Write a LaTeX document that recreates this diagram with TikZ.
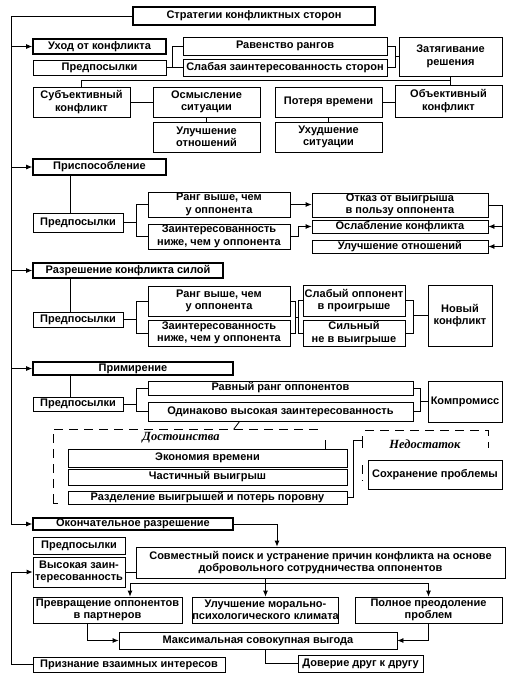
\documentclass[tikz,border=0pt]{standalone}
\usepackage{fontspec}
\setmainfont{Liberation Sans}
\newfontfamily\serifit{Liberation Serif}
\usetikzlibrary{arrows.meta,calc}
\newcommand{\mybox}[7][]{%
  \pgfmathsetmacro\mycx{(#3+#5)/2}\pgfmathsetmacro\mycy{(#4+#6)/2}%
  \pgfmathsetmacro\myww{#5-#3}\pgfmathsetmacro\myhh{#6-#4}%
  \node[box,#1,minimum width=\myww pt,minimum height=\myhh pt] (#2) at (\mycx,\mycy) {#7};}
\tikzset{
  box/.style={draw,line width=0.8pt,fill=white,inner sep=0pt,align=center,
    font=\fontsize{11}{12.5}\selectfont\bfseries},
  head/.style={line width=1.7pt},
  conn/.style={line width=0.8pt},
  arr/.style={line width=0.8pt,-{Latex[length=6pt,width=5pt]}},
  dsh/.style={line width=1pt,dash pattern=on 9pt off 6pt},
  lab/.style={font=\serifit\fontsize{12.5}{14}\selectfont\bfseries\itshape}
}
\begin{document}
\begin{tikzpicture}[x=1pt,y=-1pt]
\useasboundingbox[fill=white] (0,0) rectangle (512,686);
\coordinate (L) at (11,0);
\coordinate (V2) at (70,0);
\coordinate (H80) at (0,80);
\coordinate (S) at (277,0);
\coordinate (H583) at (0,583);
\coordinate (X130) at (130,0);
\coordinate (X87) at (87,0);
\coordinate (X265) at (265,0);
% section 1
\mybox[head]{title}{133}{7}{375}{25}{Стратегии конфликтных сторон}
\mybox[head]{ukhod}{33}{39}{166}{54}{Уход от конфликта}
\mybox{pr1}{33}{60}{166}{75}{Предпосылки}
\mybox{rav}{183}{37}{387}{55}{Равенство рангов}
\mybox{slab}{183}{59}{387}{76}{Слабая заинтересованность сторон}
\mybox{zat}{399}{37}{502}{76}{Затягивание\\решения}
\mybox{subj}{33}{87}{130}{117}{Субъективный\\конфликт}
\mybox{osm}{153}{87}{260}{117}{Осмысление\\ситуации}
\mybox{pot}{275}{87}{382}{117}{Потеря времени}
\mybox{obj}{395}{85}{502}{117}{Объективный\\конфликт}
\mybox{ulo1}{153}{122}{260}{152}{Улучшение\\отношений}
\mybox{ukh}{275}{122}{382}{152}{Ухудшение\\ситуации}
% section 2
\mybox[head]{pris}{33}{159}{166}{175}{Приспособление}
\mybox{pr2}{33}{213}{123}{232}{Предпосылки}
\mybox{rang2}{148}{192}{290}{217}{Ранг выше, чем\\у оппонента}
\mybox{zain2}{148}{224}{290}{249}{Заинтересованность\\ниже, чем у оппонента}
\mybox{otk}{312}{193}{488}{217}{Отказ от выигрыша\\в пользу оппонента}
\mybox{osl}{312}{220}{488}{233}{Ослабление конфликта}
\mybox{ulo2}{312}{240}{488}{253}{Улучшение отношений}
% section 3
\mybox[head]{raz}{33}{263}{223}{278}{Разрешение конфликта силой}
\mybox{pr3}{33}{312}{123}{327}{Предпосылки}
\mybox{rang3}{148}{286}{290}{316}{Ранг выше, чем\\у оппонента}
\mybox{zain3}{148}{320}{290}{346}{Заинтересованность\\ниже, чем у оппонента}
\mybox{slab3}{303}{285}{405}{316}{Слабый оппонент\\в проигрыше}
\mybox{sil}{303}{320}{405}{346}{Сильный\\не в выигрыше}
\mybox{nov}{428}{285}{492}{346}{Новый\\конфликт}
% section 4
\mybox[head]{prim}{33}{362}{233}{375}{Примирение}
\mybox{pr4}{33}{397}{123}{411}{Предпосылки}
\mybox{rav4}{148}{381}{413}{395}{Равный ранг оппонентов}
\mybox{odin}{148}{402}{413}{421}{Одинаково высокая заинтересованность}
\mybox{komp}{428}{381}{502}{422}{Компромисс}
\mybox{ekon}{68}{449}{347}{467}{Экономия времени}
\mybox{chast}{68}{469}{347}{485}{Частичный выигрыш}
\mybox{razd}{68}{491}{347}{504}{Разделение выигрышей и потерь поровну}
\mybox{sokh}{368}{460}{502}{489}{Сохранение проблемы}
\node[lab] (dost) at (181,438) {Достоинства};
\node[lab] (ned) at (425,444) {Недостаток};
% section 5
\mybox[head]{okon}{33}{518}{233}{530}{Окончательное разрешение}
\mybox{pr5}{33}{537}{125}{554}{Предпосылки}
\mybox{vys}{33}{557}{125}{587}{Высокая заин-\\тересованность}
\mybox{sovm}{136}{547}{505}{578}{Совместный поиск и устранение причин конфликта на основе\\добровольного сотрудничества оппонентов}
\mybox{prev}{33}{597}{182}{623}{Превращение оппонентов\\в партнеров}
\mybox{ulm}{193}{597}{338}{623}{Улучшение морально-\\психологического климата}
\mybox{poln}{355}{597}{502}{623}{Полное преодоление\\проблем}
\mybox{maks}{119}{632}{397}{649}{Максимальная совокупная выгода}
\mybox{dov}{298}{655}{423}{672}{Доверие друг к другу}
\mybox{priz}{33}{657}{225}{672}{Признание взаимных интересов}

% main left line
\draw[arr] (title.west) -| (L |- okon.west) -- (okon.west);
\foreach \n in {ukhod,pris,raz,prim}{\draw[arr] (L |- \n.west) -- (\n.west);}
% section 1 connectors
\draw[conn] (pr1.east) -- (slab.west);
\draw[conn] (rav.west) -- ++(-10,0) |- (slab.west);
\draw[conn] (rav.east) -- ++(8,0) |- (slab.east);
\draw[conn] (zat.west) -- ++(-4,0);
\draw[conn] (zat.south) -- (zat.south |- obj.north);
\draw[conn] (zat.south |- H80) -| (subj.north);
\draw[conn] (subj.east) -- (subj.east -| osm.west);
\draw[conn] (pot.east) -- (pot.east -| obj.west);
\draw[conn] (osm.south) -- (ulo1.north);
\draw[conn] (pot.south) -- (ukh.north);
% section 2
\draw[conn] (pris.south -| V2) -- (pr2.north -| V2);
\draw[conn] (pr2.east) -- ++(14,0);
\draw[conn] (rang2.west) -- ++(-11,0) |- (zain2.west);
\draw[arr] (rang2.east) -- (rang2.east -| otk.west);
\draw[arr] (zain2.east) -- ++(8,0) |- (osl.west);
\draw[arr] (otk.east) -- ++(14,0) |- (osl.east);
\draw[arr] (otk.east) -- ++(14,0) |- (ulo2.east);
% section 3
\draw[conn] (raz.south -| V2) -- (pr3.north -| V2);
\draw[conn] (pr3.east) -- ++(14,0);
\draw[conn] (rang3.west) -- ++(-11,0) |- (zain3.west);
\draw[conn] (rang3.east) -- ++(5,0) |- (zain3.east);
\draw[conn] (slab3.west) -- ++(-4,0) |- (sil.west);
\draw[conn] ($(rang3.east)!0.5!(zain3.east)+(5,0)$) -- ++(4,0);
\draw[conn] (slab3.east) -- ++(8,0) |- (sil.east);
\draw[conn] (nov.west) -- ++(-15,0);
% section 4
\draw[conn] (prim.south -| V2) -- (pr4.north -| V2);
\draw[conn] (pr4.east) -- ++(14,0);
\draw[conn] (rav4.west) -- ++(-11,0) |- (odin.west);
\draw[conn] (rav4.east) -- ++(7,0) |- (odin.east);
\draw[conn] (komp.west) -- ++(-8,0);
\draw[dsh] (53,503) -- (53,429) -- (323,429);
\draw[conn] (53,503) -- (58,503);
\draw[conn] ($(odin.south west)+(92,0)$) -- ++(-6,8);
\draw[conn] (325,440) -- (ekon.north -| 325,0);
\draw[dsh] (365,430) -- (488,430) -- (488,448);
\draw[dsh] (362,465) -- (362,481);
\draw[conn] (razd.east) -- ++(6,0) -- ++(0,-57) -- ++(9,0);
\draw[conn] (362,436) -- (362,448);
% section 5
\draw[arr] (okon.east) -| (sovm.north -| S);
\draw[conn] (vys.east) -- (vys.east -| sovm.west);
\draw[conn] (ulm.north |- sovm.south) -- (ulm.north |- H583);
\draw[arr] (ulm.north |- H583) -- (ulm.north);
\draw[arr] (ulm.north |- H583) -| (prev.north -| X130);
\draw[arr] (ulm.north |- H583) -| (poln.north);
\draw[arr] (prev.south -| X87) |- (maks.west);
\draw[arr] (poln.south) |- (maks.east);
\draw[conn] (maks.south -| X265) |- (dov.west);
\draw[arr] (priz.west) -- ++(-21,0) |- (vys.west);
\end{tikzpicture}
\end{document}
